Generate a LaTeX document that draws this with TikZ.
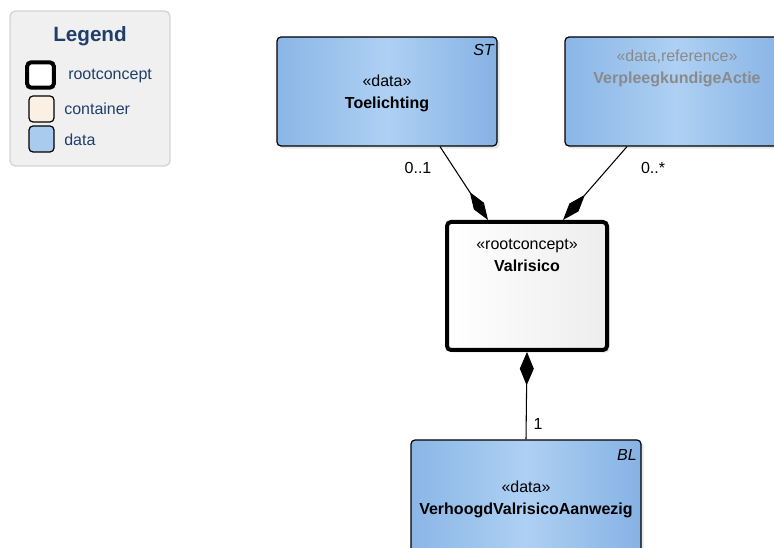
\documentclass[tikz,border=0pt]{standalone}
\usepackage{fontspec}
\setmainfont{Liberation Sans}
\usetikzlibrary{arrows.meta,shadows}
\definecolor{legfill}{HTML}{F0F0F0}
\definecolor{legline}{HTML}{D4D4D4}
\definecolor{legtext}{HTML}{1F3F6A}
\definecolor{datal}{HTML}{8AB6E6}
\definecolor{datam}{HTML}{AED0F3}
\definecolor{datar}{HTML}{86B2E4}
\definecolor{contfill}{HTML}{FAF0E4}
\definecolor{legdata}{HTML}{A9CBEE}
\definecolor{greytext}{HTML}{8A8A8A}
\tikzset{
  base/.style={font=\fontsize{12}{16.5}\selectfont},
  databox/.style={draw=black, line width=0.9pt, rounded corners=3pt,
    left color=datal, right color=datar, middle color=datam,
    drop shadow={shadow xshift=2pt, shadow yshift=-2pt, opacity=0.2}},
  rootbox/.style={draw=black, line width=3pt, rounded corners=3pt,
    shading=axis, shading angle=120, left color=white, right color=gray!14,
    drop shadow={shadow xshift=2pt, shadow yshift=-2pt, opacity=0.2}},
  txt/.style={base, align=center, inner sep=0pt},
  conn/.style={draw=black, line width=0.8pt},
  diam/.style={-{Diamond[length=25pt,width=9pt]}},
  legbox/.style={draw=black, line width=0.9pt, rounded corners=3pt},
}
\begin{document}
\begin{tikzpicture}[x=0.75pt,y=-0.75pt]
\useasboundingbox (0,0) rectangle (774,548);
% legend
\node[draw=legline, fill=legfill, line width=1pt, rounded corners=4pt,
  minimum width=120pt, minimum height=116.25pt, inner sep=0pt] (legend) at (90,88.5) {};
\node[txt, font=\fontsize{15.5}{18}\selectfont\bfseries, text=legtext] (legtitle) at (90,36) {Legend};
\node[legbox, line width=3pt, fill=white, minimum width=20pt, minimum height=19pt, inner sep=0pt] (lroot) at (40.5,75) {};
\node[txt, anchor=west, text=legtext] (lroott) at (68,76) {rootconcept};
\node[legbox, fill=contfill, minimum width=18.75pt, minimum height=19.5pt, inner sep=0pt] (lcont) at (41.5,109) {};
\node[txt, anchor=west, text=legtext] (lcontt) at (64,109) {container};
\node[legbox, fill=legdata, minimum width=18.75pt, minimum height=19.5pt, inner sep=0pt] (ldata) at (41.5,139) {};
\node[txt, anchor=west, text=legtext] (ldatat) at (64,140) {data};
% class boxes
\node[databox, minimum width=165pt, minimum height=81.75pt, inner sep=0pt] (toel) at (387,91.5) {};
\node[txt] (toelt) at (387,93) {«data»\\\textbf{Toelichting}};
\node[txt, anchor=east, font=\fontsize{12}{14}\selectfont\itshape] (toelst) at (494,50) {ST};

\node[databox, minimum width=168pt, minimum height=81.75pt, inner sep=0pt] (verp) at (677,91.5) {};
\node[txt, text=greytext] (verpt) at (677,68) {«data,reference»\\\textbf{VerpleegkundigeActie}};

\node[rootbox, minimum width=120pt, minimum height=96pt, inner sep=0pt] (val) at (527,286) {};
\node[txt] (valt) at (527,255) {«rootconcept»\\\textbf{Valrisico}};

\node[databox, minimum width=172.5pt, minimum height=97.5pt, inner sep=0pt] (verh) at (526,505) {};
\node[txt] (verht) at (526,499) {«data»\\\textbf{VerhoogdValrisicoAanwezig}};
\node[txt, anchor=east, font=\fontsize{12}{14}\selectfont\itshape] (verhbl) at (637,455) {BL};

% connectors
\draw[conn, diam] ([xshift=39.75pt]toel.south) -- ([xshift=-29.25pt]val.north);
\draw[conn, diam] ([xshift=-37.5pt]verp.south) -- ([xshift=27pt]val.north);
\draw[conn, -{Diamond[length=25pt,width=10.5pt]}] (verh.north) -- (val.south);

% multiplicities
\node[txt] (m1) at (418,168) {0..1};
\node[txt] (m2) at (653,168) {0..*};
\node[txt] (m3) at (538,424) {1};
\end{tikzpicture}
\end{document}
